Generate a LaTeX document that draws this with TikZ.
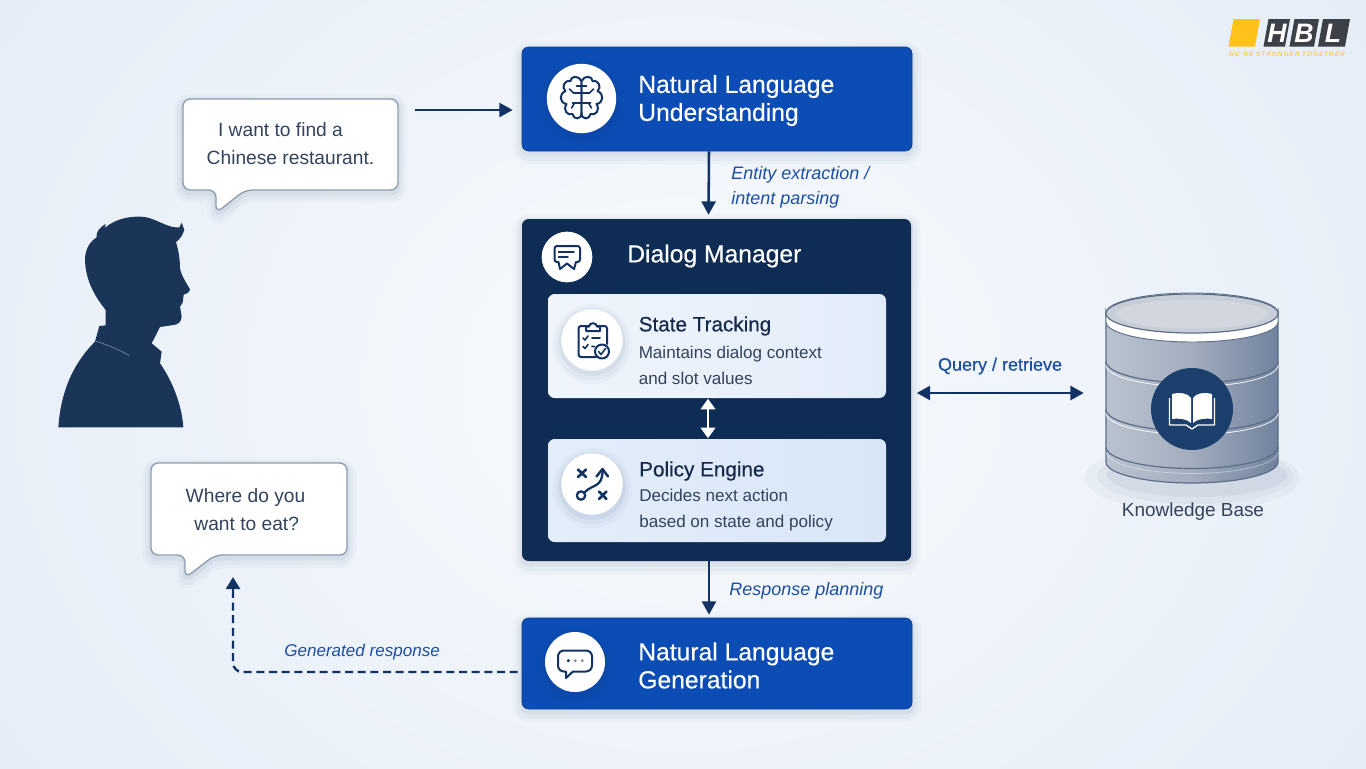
\documentclass[tikz,border=0pt]{standalone}
\usepackage{fontspec}
\setmainfont{Liberation Sans}
\newfontfamily\semib[FakeBold=0.35]{Liberation Sans}
\usetikzlibrary{arrows.meta,calc}
\definecolor{bluebox}{HTML}{0B4DB5}
\definecolor{navybox}{HTML}{0F2C55}
\definecolor{navyline}{HTML}{123263}
\definecolor{inka}{HTML}{14284A}
\definecolor{inkb}{HTML}{33435C}
\definecolor{labelblue}{HTML}{1C4FA3}
\definecolor{bubbleedge}{HTML}{8D9DB0}
\definecolor{person}{HTML}{1A3557}
\definecolor{cylline}{HTML}{5C6E88}
\definecolor{bookblue}{HTML}{1C3F6E}
\definecolor{logoy}{HTML}{FFC21A}
\definecolor{logog}{HTML}{3D4046}
\definecolor{bginner}{HTML}{F9FBFE}
\definecolor{bgouter}{HTML}{E2EBF6}
\definecolor{stleft}{HTML}{F0F5FC}
\definecolor{stright}{HTML}{E2ECF9}
\definecolor{peleft}{HTML}{E4EEFA}
\definecolor{peright}{HTML}{D8E6F8}
\definecolor{cylleft}{HTML}{BAC2CF}
\definecolor{cylmid}{HTML}{A2ADBE}
\definecolor{cylright}{HTML}{70829D}
\definecolor{cyltop}{HTML}{C8CED8}
\definecolor{cyltopin}{HTML}{D2D7DF}
\newcommand{\fsz}[2]{\fontsize{#1}{#2}\selectfont}
\tikzset{
  softshadow/.style={
    preaction={draw=navybox,draw opacity=.025,line width=14pt,transform canvas={yshift=-3pt}},
    preaction={draw=navybox,draw opacity=.035,line width=9pt,transform canvas={yshift=-3pt}},
    preaction={draw=navybox,draw opacity=.05,line width=4pt,transform canvas={yshift=-2pt}}},
  boxnode/.style={rectangle,rounded corners=5pt,inner sep=0pt},
  bluenode/.style={boxnode,softshadow,fill=bluebox,draw=bluebox!80!black,line width=.5pt,minimum width=292.5pt},
  iconcirc/.style={circle,fill=white,inner sep=0pt,softshadow},
  titletext/.style={anchor=west,inner sep=0pt,align=left,text=white,font=\fsz{18.5}{21}\semib},
  subtitle/.style={anchor=west,inner sep=0pt,align=left,text=inka,font=\fsz{15.5}{18}\semib},
  bodytext/.style={anchor=west,inner sep=0pt,align=left,text=inkb,font=\fsz{12.8}{19.5}},
  edgelabel/.style={anchor=west,inner sep=0pt,align=left,text=labelblue,font=\fsz{13.5}{19}\itshape},
  bubbletext/.style={inner sep=0pt,align=left,text=inkb,font=\fsz{14.4}{21}},
  conn/.style={draw=navyline,line width=1.9pt,-{Triangle[length=10pt,width=10.5pt]}},
  connboth/.style={draw=navyline,line width=1.9pt,{Triangle[length=10pt,width=10.5pt]}-{Triangle[length=10pt,width=10.5pt]}},
  iconline/.style={draw=navyline,line width=1.5pt,line cap=round,line join=round,fill=none},
  bubbleshape/.style={fill=white,draw=bubbleedge,line width=1pt,rounded corners=5.5pt,line join=round,softshadow},
  cyl/.style={draw=cylline,line width=.9pt},
  logopart/.style={fill=logog},
}
\begin{document}
\begin{tikzpicture}[x=0.75pt,y=-0.75pt]
\useasboundingbox (0,0) rectangle (1366,768);
% background
\shade[inner color=bginner,outer color=bgouter] (-250,-400) rectangle (1616,1168);
% logo
\fill[logoy] (1233.5,19) -- (1260,19) -- (1255,46.5) -- (1228.5,46.5) -- cycle;
\fill[logopart] (1268.5,19) -- (1290,19) -- (1285,46.5) -- (1263.5,46.5) -- cycle;
\fill[logopart] (1294.5,19) -- (1319,19) -- (1314,46.5) -- (1289.5,46.5) -- cycle;
\fill[logopart] (1323,19) -- (1350,19) -- (1345,46.5) -- (1318,46.5) -- cycle;
\node[inner sep=0pt,text=white,font=\fsz{20}{20}\bfseries\itshape] (logoh) at (1277,33) {H};
\node[inner sep=0pt,text=white,font=\fsz{20}{20}\bfseries\itshape] (logob) at (1304,33) {B};
\node[inner sep=0pt,text=white,font=\fsz{20}{20}\bfseries\itshape] (logol) at (1333,33) {L};
\node[anchor=west,inner sep=0pt,text=logoy!80!white,font=\fsz{4.9}{6}\bfseries\itshape\addfontfeature{LetterSpace=14}] (logotag) at (1228,54.5) {WE'RE STRONGER TOGETHER};
% main boxes
\node[bluenode,minimum height=78pt] (nlu) at (717,99) {};
\node[bluenode,minimum height=68.25pt] (nlg) at (717,663.5) {};
\node[boxnode,softshadow,fill=navybox,minimum width=291.75pt,minimum height=256.5pt] (dm) at (716.5,390) {};
\node[boxnode,left color=stleft,right color=stright,minimum width=253.5pt,minimum height=78pt] (st) at (717,346) {};
\node[boxnode,left color=peleft,right color=peright,minimum width=253.5pt,minimum height=77.25pt] (pe) at (717,490.5) {};
% icon circles
\node[iconcirc,minimum size=52pt] (nluicon) at (581.5,98.5) {};
\node[iconcirc,minimum size=38pt] (dmicon) at (567,257) {};
\node[iconcirc,minimum size=46pt] (sticon) at (592,340) {};
\node[iconcirc,minimum size=46pt] (peicon) at (592,484) {};
\node[iconcirc,minimum size=45pt] (nlgicon) at (575,662) {};
% titles
\node[titletext] (nlutitle) at (638,100.5) {Natural Language\\Understanding};
\node[titletext] (nlgtitle) at (638,665.5) {Natural Language\\Generation};
\node[titletext] (dmtitle) at (627,256) {Dialog Manager};
\node[subtitle] (sttitle) at (638.5,326) {State Tracking};
\node[bodytext] (stbody) at (638.5,365) {Maintains dialog context\\and slot values};
\node[subtitle] (petitle) at (639,471) {Policy Engine};
\node[bodytext] (pebody) at (639,510) {Decides next action\\based on state and policy};
% brain icon
\begin{scope}[shift={(581.5,98)}]
\foreach \s in {-1,1}{
\begin{scope}[xscale=\s]
\draw[iconline] (0,-17) .. controls (-3,-23) and (-11,-22) .. (-11,-17) .. controls (-18,-18) and (-20,-10) .. (-16,-7) .. controls (-23,-4) and (-22,5) .. (-15,6) .. controls (-19,12) and (-14,18) .. (-9,16) .. controls (-8,22) and (0,22) .. (0,15);
\draw[iconline,line width=1.2pt] (0,-17) -- (0,15) (0,-5) -- (-8,-5) -- (-12,-9) (0,5) -- (-9,5) (-7,5) -- (-10,10) (0,-12) -- (-5,-12);
\end{scope}}
\end{scope}
% dialog icon
\draw[iconline] (557,246) -- (577.5,246) to[out=0,in=90] (580,248.5) -- (580,259.5) to[out=-90,in=0] (577.5,262) -- (576,262) -- (574,269) -- (567,263.5) -- (560,269) -- (558.5,262) -- (557,262) to[out=180,in=-90] (554.5,259.5) -- (554.5,248.5) to[out=90,in=180] cycle;
\draw[iconline,line width=1.1pt] (558.5,252) -- (574,252) (558.5,257) -- (568,257);
% clipboard icon
\draw[iconline] (596,357) -- (581,357) to[out=180,in=-90] (578.5,354.5) -- (578.5,328.5) to[out=90,in=180] (581,326) -- (604.5,326) to[out=0,in=90] (607,328.5) -- (607,344);
\draw[iconline,fill=white] (586,331) -- (586,326.5) -- (589,326.5) to[out=90,in=90,looseness=1.4] (597,326.5) -- (600,326.5) -- (600,331) -- cycle;
\draw[iconline,line width=1.2pt] (583,338) -- (585,340) -- (588,336) (592,338) -- (600,338) (583,346.5) -- (585,348.5) -- (588,344.5) (592,346.5) -- (594.5,346.5);
\draw[iconline,fill=white] (602,351.5) circle (7);
\draw[iconline,line width=1.2pt] (598.5,351.5) -- (601,354.5) -- (605.5,348.5);
% policy icon
\draw[iconline,line width=2pt] (578,469.5) -- (586,477) (586,469.5) -- (578,477) (599,491.5) -- (606.5,499) (606.5,491.5) -- (599,499);
\draw[iconline,line width=1.7pt] (581,495.5) circle (4.2);
\draw[iconline,line width=1.7pt] (584.5,492.5) .. controls (592,484) and (603,488) .. (602.5,470);
\draw[iconline,line width=1.8pt] (596.5,476.5) -- (602.5,469) -- (608,476.5);
% nlg icon
\draw[iconline] (564,650.5) -- (586,650.5) to[out=0,in=90] (592,656.5) -- (592,665.5) to[out=-90,in=0] (586,671.5) -- (573,671.5) -- (566,678) -- (566,671.5) -- (564,671.5) to[out=180,in=-90] (558,665.5) -- (558,656.5) to[out=90,in=180] cycle;
\fill[navyline] (568.3,660.7) circle (1.7);
\fill[navyline!55!white] (575.3,660.7) circle (1.6) (582.3,660.7) circle (1.6);
% connectors between boxes
\coordinate (inarrow) at (415,110);
\draw[conn] (inarrow) -- ($(nlu.west)+(-9,11)$);
\draw[conn] ($(nlu.south)+(-8,0)$) -- ($(dm.north)+(-8,-4)$);
\draw[conn] ($(dm.south)+(-7.5,0)$) -- ($(nlg.north)+(-8,-3)$);
\draw[draw=white,line width=1.5pt,{Triangle[length=8pt,width=11pt]}-{Triangle[length=8pt,width=11pt]}] ($(st.south)+(-9,0.5)$) -- ($(pe.north)+(-9,-0.5)$);
\node[edgelabel] (lab1) at (731,187.5) {Entity extraction /\\intent parsing};
\node[edgelabel] (lab2) at (729,591) {Response planning};
% bubbles
\path[bubbleshape] (183,99) -- (398,99) -- (398,190) -- (245,190) -- (216,213) -- (216,190) -- (183,190) -- cycle;
\path[bubbleshape] (151,463) -- (347,463) -- (347,555) -- (215,555) -- (185,578) -- (185,555) -- (151,555) -- cycle;
\node[bubbletext] (b1text) at (290.5,143.5) {\hspace*{8.5pt}I want to find a\\Chinese restaurant.};
\node[bubbletext] (b2text) at (245.5,510) {Where do you\\\hspace*{6.5pt}want to eat?};
% person
\begin{scope}[shift={(40,200)},x=0.25pt,y=-0.25pt]
\fill[person] (55,682) .. controls (60,610) and (80,510) .. (165,425) -- (178,378) -- (197,376) -- (197,330)
 .. controls (165,290) and (135,240) .. (135,175) .. controls (137,145) and (150,125) .. (170,112)
 .. controls (168,98) and (175,85) .. (197,72) .. controls (197,78) and (197,80) .. (195,84)
 .. controls (225,55) and (280,45) .. (320,52) .. controls (355,60) and (385,85) .. (418,82)
 -- (425,68) -- (433,90) .. controls (428,105) and (420,118) .. (408,126)
 .. controls (415,150) and (420,175) .. (420,205) .. controls (425,230) and (440,250) .. (450,268)
 .. controls (448,278) and (440,282) .. (431,284) -- (428,308) -- (420,320) -- (425,350)
 .. controls (424,365) and (415,374) .. (400,375) -- (360,381) -- (335,430) -- (365,455) -- (360,490)
 .. controls (395,540) and (425,610) .. (430,682) -- cycle;
\draw[white!35!person,line width=.6pt] (168,424) .. controls (205,435) and (240,450) .. (270,468);
\end{scope}
% knowledge base
\fill[navybox,opacity=.03] (1192,478) ellipse (108 and 34);
\fill[navybox,opacity=.04] (1195,476) ellipse (98 and 28);
\fill[navybox,opacity=.05] (1197,475) ellipse (90 and 22);
\path[cyl,left color=cylleft,right color=cylright,middle color=cylmid] (1106,313) -- (1106,462) arc (180:0:86 and 21) -- (1278,313) arc (0:180:86 and 20) -- cycle;
\draw[white,line width=.7pt,opacity=.8] (1106,365) arc (180:0:86 and 21.5);
\draw[cyl] (1106,361.5) arc (180:0:86 and 21.5);
\draw[white,line width=.7pt,opacity=.8] (1106,413) arc (180:0:86 and 21.5);
\draw[cyl] (1106,409.5) arc (180:0:86 and 21.5);
\draw[cyl] (1106,447) arc (180:0:86 and 21.5);
\draw[white,line width=.6pt,opacity=.4] (1106,452) arc (180:0:86 and 21.5);
\path[fill=white,draw=cylline,line width=.7pt] (1106,313) -- (1106,322) arc (180:0:86 and 20) -- (1278,313) arc (0:-180:86 and 20) -- cycle;
\path[cyl,fill=cyltop] (1192,313.5) ellipse (86 and 19.5);
\fill[cyltopin] (1192,314) ellipse (76 and 14.5);
\node[circle,fill=bookblue,inner sep=0pt,minimum size=61.5pt] (book) at (1192,409) {};
\fill[white] (1172,394) .. controls (1180,392) and (1188,393) .. (1191,398) -- (1191,423) .. controls (1187,419) and (1180,418) .. (1172,419) -- cycle;
\fill[white] (1212,394) .. controls (1204,392) and (1196,393) .. (1193,398) -- (1193,423) .. controls (1197,419) and (1204,418) .. (1212,419) -- cycle;
\draw[white,line width=1pt,line join=round] (1169.5,398) -- (1169.5,425) -- (1186,425) -- (1192,429) -- (1198,425) -- (1214.5,425) -- (1214.5,398);
\node[inner sep=0pt,text=inkb,font=\fsz{14.2}{17}] (kblabel) at (1193,512) {Knowledge Base};
% query connector
\draw[connboth] ($(dm.east)+(5.5,3)$) -- ($(book.west)+(-67,-16)$);
\node[inner sep=0pt,text=labelblue,font=\fsz{13.5}{16}\semib] (querylabel) at (1000,366) {Query / retrieve};
% response connector
\coordinate (respturn) at (233,672);
\coordinate (respend) at (233,577);
\draw[draw=navyline,line width=1.8pt,dash pattern=on 6pt off 3.5pt,rounded corners=7pt] ($(nlg.west)+(-4,8.5)$) -- (respturn) -- ($(respend)+(0,15)$);
\draw[navyline,line width=1.8pt,-{Triangle[length=9pt,width=10.5pt]}] ($(respend)+(0,15)$) -- (respend);
\node[edgelabel,font=\fsz{12.8}{16}\itshape] (lab3) at (284,652) {Generated response};
\end{tikzpicture}
\end{document}
